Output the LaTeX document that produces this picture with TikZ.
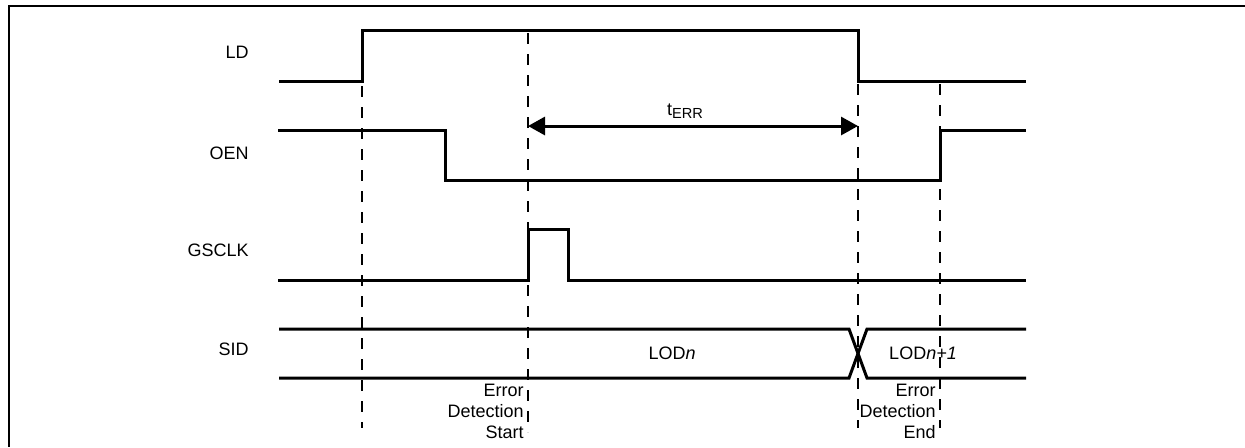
\documentclass[tikz,border=0pt]{standalone}
\usepackage{fontspec}
\setmainfont{Liberation Sans}
\usetikzlibrary{arrows.meta}
\begin{document}
\begin{tikzpicture}[x=0.5pt,y=-0.5pt,
  sig/.style={line width=1.5pt,line join=miter},
  guide/.style={line width=1pt,dash pattern=on 5.5pt off 5pt},
  frameline/.style={line width=1pt},
  lbl/.style={font=\fontsize{9pt}{10.5pt}\selectfont,inner sep=1pt},
  sname/.style={lbl,anchor=east},
  dim/.style={line width=1.5pt,{Triangle[length=8.5pt,width=9pt]}-{Triangle[length=8.5pt,width=9pt]}}]
\useasboundingbox (0,0) rectangle (1245,447);
% frame (top and left edges)
\draw[frameline] (1245,6) -- (9,6) -- (9,447);
% signal names
\node[sname] (nLD) at (251,52) {LD};
\node[sname] (nOEN) at (251,153) {OEN};
\node[sname] (nGS) at (251,250) {GSCLK};
\node[sname] (nSID) at (251,349) {SID};
% guide lines
\coordinate (g1t) at (362,86);  \coordinate (g1b) at (362,428);
\coordinate (g2t) at (528,33);  \coordinate (g2b) at (528,432);
\coordinate (g3t) at (858,84);  \coordinate (g3b) at (858,428);
\coordinate (g4t) at (940,84);  \coordinate (g4b) at (940,428);
\draw[guide] (g1t) -- (g1b);
\draw[guide] (g2t) -- (g2b);
\draw[guide] (g3t) -- (g3b);
\draw[guide] (g4t) -- (g4b);
% LD
\draw[sig] (279,81) -- (362,81) -- (362,30) -- (858,30) -- (858,81) -- (1026,81);
% OEN
\draw[sig] (278,130) -- (445,130) -- (445,180) -- (940,180) -- (940,130) -- (1026,130);
% GSCLK
\draw[sig] (278,280) -- (528,280) -- (528,229) -- (568,229) -- (568,280) -- (1026,280);
% SID bus
\draw[sig] (279,329) -- (849,329) -- (867,378) -- (1026,378);
\draw[sig] (279,378) -- (849,378) -- (867,329) -- (1026,329);
\node[lbl] (lodn) at (672,353) {LOD\textit{n}};
\node[lbl] (lodn1) at (923,353) {LOD\textit{n+1}};
% tERR
\coordinate (a1) at (528,126);
\coordinate (a2) at (858,126);
\draw[dim] (a1) -- (a2);
\node[lbl] (terr) at (685,111) {t\raisebox{-1.2pt}{\fontsize{7.3pt}{8pt}\selectfont ERR}};
% annotations
\node[lbl,align=right,anchor=east] (eds) at (526,411) {Error\\Detection\\Start};
\node[lbl,align=right,anchor=east] (ede) at (938,411) {Error\\Detection\\End};
\end{tikzpicture}
\end{document}
